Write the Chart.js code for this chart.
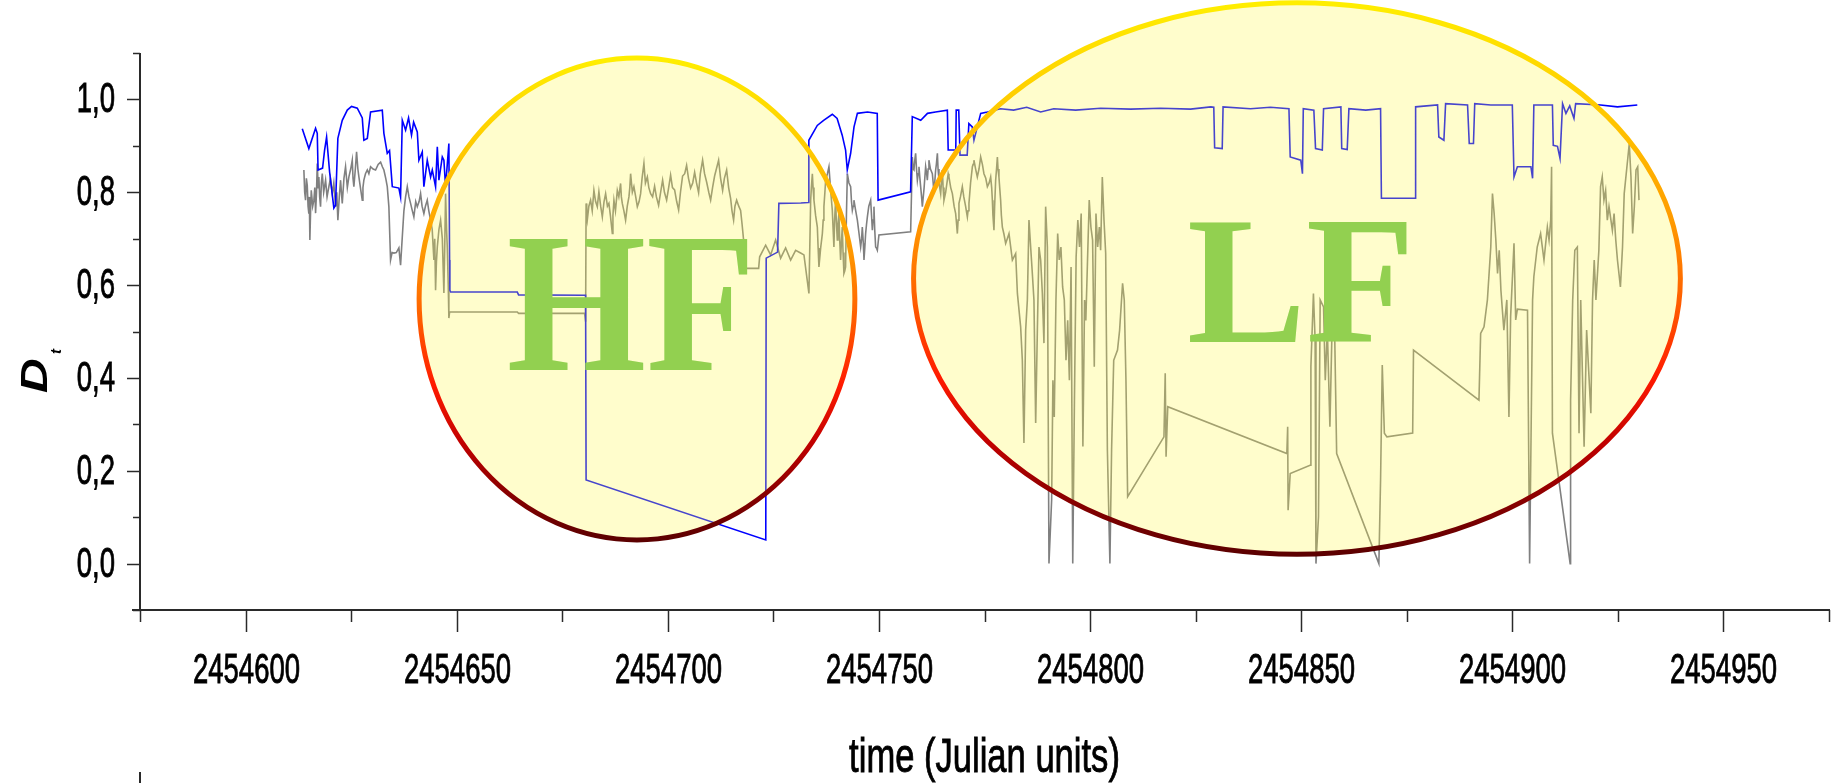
<!DOCTYPE html>
<html>
<head>
<meta charset="utf-8">
<script src="https://cdn.jsdelivr.net/npm/chart.js@4.4.0/dist/chart.umd.min.js"></script>
<style>
  html, body { margin: 0; padding: 0; background: #ffffff; }
  #wrap { width: 1832px; height: 783px; }
</style>
</head>
<body>
<div id="wrap"><canvas id="c" width="1832" height="783"></canvas></div>
<script>
// Julian day origin; the day arrays below are offsets from it.
const JD0 = 2454600;

// Blue series: D_t against time
const blueDays = [
  13.43,14.99,16.58,16.98,17.17,18.24,18.71,19.19,19.9,20.91,
  21.3,21.86,22.9,24.09,25.1,26.46,27.64,28.02,28.83,29.61,
  32.38,32.76,33.56,34.1,34.75,36.31,36.71,37.12,37.9,38.6,
  39.3,39.8,40.67,41.05,41.85,42.23,43.03,43.82,44.22,45.0,
  45.41,45.79,46.59,46.97,47.37,48.15,48.32,48.39,48.56,64.35,
  64.66,80.53,80.65,123.2,123.3,126.0,126.3,131.5,133.3,133.4,
  135.4,136.9,138.96,140.1,141.3,142.1,142.5,143.3,144.1,144.9,
  147.3,149.6,149.8,157.5,157.9,159.9,161.5,163.4,166.2,166.4,
  168.2,168.3,168.9,169.2,170.9,171.3,172.1,172.5,174.1,175.7,
  178.8,181.9,185.0,188.3,191.4,196.6,202.5,209.6,216.7,223.8,
  228.6,229.3,229.5,231.3,231.5,238.0,242.7,247.1,247.4,249.9,
  250.3,250.5,253.0,253.4,255.0,255.3,259.4,259.6,260.9,261.3,
  265.3,268.8,269.0,277.0,277.1,282.3,282.6,283.8,284.2,289.4,
  289.8,290.8,291.1,294.9,300.0,300.4,301.2,304.4,304.8,305.1,
  309.5,309.7,310.7,311.3,311.9,312.7,313.6,314.6,315.0,320.9,
  324.9,329.6
];
const blueValues = [
  .937,.894,.938,.927,.848,.852,.89,.919,.844,.766,
  .772,.916,.955,.977,.985,.981,.96,.912,.916,.973,
  .977,.927,.884,.89,.812,.809,.79,.955,.934,.96,
  .923,.951,.93,.869,.887,.812,.869,.833,.848,.812,
  .898,.826,.876,.869,.812,.905,.654,.589,.585,.585,
  .579,.578,.18,.051,.658,.671,.776,.777,.778,.912,
  .944,.955,.968,.959,.923,.891,.848,.884,.941,.970,
  .973,.970,.783,.801,.963,.955,.970,.973,.977,.891,
  .891,.977,.977,.880,.880,.948,.941,.912,.970,.973,
  .980,.977,.983,.973,.980,.977,.981,.979,.981,.979,
  .984,.983,.896,.894,.984,.980,.983,.980,.876,.869,
  .840,.980,.977,.894,.891,.980,.984,.894,.892,.980,
  .977,.980,.787,.787,.984,.988,.919,.912,.991,.988,
  .905,.905,.991,.988,.988,.833,.855,.855,.830,.988,
  .988,.901,.899,.873,.991,.970,.986,.959,.991,.988,
  .984,.988
];

// Grey series: D_t against time
const greyDays = [
  13.81,14.0,14.21,14.4,14.61,14.8,14.99,15.1,15.23,15.4,
  15.56,15.9,16.18,16.4,16.58,16.8,16.98,17.2,17.36,17.55,
  17.76,17.95,18.17,18.5,18.95,19.3,19.73,20.1,20.54,20.9,
  21.32,21.6,21.86,22.2,22.5,22.7,22.9,23.3,23.68,24.1,
  24.47,24.9,25.27,25.45,25.65,26.0,26.29,26.6,26.84,27.2,
  27.64,27.8,28.02,28.4,28.83,29.2,29.61,30.2,30.79,31.4,
  31.98,32.4,32.76,33.2,33.56,33.94,34.34,34.7,35.13,35.7,
  36.31,36.71,37.12,37.5,37.9,38.3,38.7,39.08,39.5,39.86,
  40.3,40.67,41.1,41.45,41.8,42.23,42.6,43.03,43.4,43.82,
  44.2,44.6,44.8,45.0,45.2,45.41,45.8,46.19,46.6,46.97,
  47.2,47.37,47.6,47.77,48.0,48.15,48.32,64.35,64.66,80.29,80.53,
  80.65,80.8,80.93,81.3,81.71,82.1,82.5,82.9,83.3,83.68,
  84.1,84.49,84.9,85.27,85.7,86.05,86.4,86.86,87.0,87.24,
  87.6,88.04,88.4,88.82,89.0,89.22,89.6,90.0,90.4,90.79,
  91.0,91.19,91.6,91.97,92.4,92.78,93.2,93.56,93.9,94.34,
  94.7,95.15,95.5,95.93,96.4,96.87,97.3,97.82,98.3,98.77,
  99.2,99.72,100.2,100.66,101.1,101.61,102.1,102.56,103.0,103.5,
  104.0,104.45,104.9,105.4,105.9,106.35,106.8,107.29,107.7,108.24,
  108.7,109.19,109.7,110.14,110.6,111.08,111.5,112.03,112.5,112.98,
  113.4,113.93,114.4,114.87,115.2,115.58,115.9,116.3,116.8,117.24,
  117.6,117.95,118.43,121.51,121.75,123.17,124.35,125.53,126.72,127.9,
  129.09,130.27,131.45,132.24,
  133.42,133.83,134.0,134.23,134.4,134.61,135.0,135.41,135.6,135.79,
  136.2,136.6,136.8,136.97,137.2,137.38,137.8,138.16,138.6,138.96,
  139.15,139.34,139.5,139.74,139.9,140.14,140.3,140.52,140.7,140.92,
  141.1,141.32,141.5,141.71,141.9,142.1,142.3,142.52,142.9,143.3,
  143.5,143.7,143.9,144.08,144.5,144.89,145.3,145.67,145.9,146.06,
  146.3,146.46,146.65,146.85,147.05,147.26,147.6,148.04,148.25,148.44,
  148.6,148.82,149.0,149.22,149.4,149.62,150.0,
  157.51,157.91,158.1,158.29,158.5,158.69,158.9,159.1,159.3,159.48,
  159.7,159.88,160.1,160.28,160.7,161.06,161.3,161.46,161.65,161.84,
  162.2,162.65,162.85,163.03,163.2,163.43,163.6,163.84,164.0,164.22,
  164.4,164.62,164.8,165.02,165.2,165.4,165.8,166.2,166.4,166.58,
  167.0,167.39,167.8,168.17,168.4,168.57,168.75,168.95,169.3,169.75,
  170.1,170.54,170.7,170.94,171.1,171.32,171.7,172.13,172.3,172.5,
  172.9,173.3,173.7,174.09,174.5,174.87,175.3,175.68,176.1,176.46,
  176.7,176.86,177.0,177.24,177.4,177.64,177.85,178.05,178.2,178.42,
  178.6,178.82,179.0,179.23,179.6,180.01,180.4,180.8,
  181.6,182.38,182.79,183.56,183.96,184.34,184.75,185.15,185.53,185.93,
  186.33,186.71,187.12,187.52,187.9,188.3,188.7,189.08,189.48,189.89,
  190.27,190.9,191.2,191.52,191.92,192.33,192.7,193.1,193.5,193.9,
  194.3,194.7,195.1,195.5,195.9,196.3,196.7,197.1,197.5,197.9,
  198.3,198.7,199.0,199.4,199.8,200.2,200.6,201.0,201.4,201.8,
  202.2,202.5,202.9,203.3,203.7,204.1,204.7,205.1,205.6,206.5,
  207.0,207.7,208.1,208.5,208.9,217.5,217.8,218.0,218.4,246.6,
  246.8,246.9,247.4,252.1,252.3,252.9,253.3,253.5,254.1,254.5,
  255.3,255.7,256.2,256.8,257.3,257.8,258.4,268.4,268.8,269.2,
  269.7,270.3,276.4,276.6,292.1,292.5,293.3,294.1,294.9,295.3,
  295.7,296.1,296.5,296.9,297.3,298.0,298.7,299.2,299.6,300.4,
  300.8,301.2,303.6,304.1,304.8,305.1,305.9,306.7,307.5,308.3,
  308.7,309.1,309.3,309.5,313.7,313.8,314.3,314.8,315.4,315.8,
  316.2,317.0,317.6,318.6,319.0,319.4,319.8,320.5,320.9,321.3,
  321.7,322.1,322.5,322.9,323.7,324.1,324.5,324.9,325.6,326.1,
  326.5,327.3,327.7,328.1,328.5,328.9,329.3,329.7,330.0
];
const greyValues = [
  .848,.80,.783,.83,.815,.77,.754,.79,.697,.76,
  .804,.77,.783,.81,.755,.80,.862,.81,.833,.79,
  .769,.82,.840,.80,.826,.79,.812,.83,.797,.82,
  .769,.80,.740,.79,.826,.80,.776,.83,.855,.81,
  .833,.85,.869,.83,.812,.85,.887,.85,.833,.81,
  .783,.81,.826,.84,.848,.84,.855,.85,.848,.86,
  .865,.855,.848,.83,.812,.769,.654,.67,.669,.67,
  .680,.643,.704,.76,.790,.812,.79,.776,.76,.747,
  .78,.769,.78,.797,.77,.754,.77,.783,.76,.740,
  .72,.654,.70,.589,.65,.682,.72,.740,.70,.583,
  .70,.797,.72,.682,.60,.529,.542,.542,.539,.539,.521,
  .776,.75,.740,.77,.783,.76,.804,.78,.769,.801,
  .77,.747,.78,.797,.77,.776,.75,.711,.75,.783,
  .76,.804,.79,.819,.79,.776,.76,.740,.77,.790,
  .81,.840,.80,.812,.79,.769,.78,.797,.83,.862,
  .82,.833,.81,.797,.79,.813,.79,.772,.80,.826,
  .80,.783,.81,.837,.81,.805,.78,.762,.80,.835,
  .84,.858,.83,.809,.82,.843,.82,.799,.84,.869,
  .84,.822,.80,.783,.81,.835,.85,.869,.83,.804,
  .83,.848,.81,.787,.76,.740,.77,.783,.77,.761,
  .73,.697,.636,.636,.661,.686,.665,.697,.658,.680,
  .654,.675,.669,.665,
  .582,.783,.81,.840,.81,.783,.75,.725,.68,.639,
  .68,.711,.74,.769,.80,.826,.84,.855,.80,.761,
  .72,.682,.74,.783,.74,.697,.73,.754,.70,.654,
  .69,.725,.67,.625,.63,.639,.75,.840,.82,.812,
  .78,.761,.77,.783,.76,.740,.71,.682,.70,.725,
  .69,.654,.68,.711,.73,.747,.77,.783,.75,.718,
  .74,.769,.72,.682,.68,.675,.708,
  .715,.876,.85,.848,.87,.884,.85,.826,.84,.855,
  .83,.812,.79,.769,.81,.855,.84,.826,.85,.869,
  .85,.840,.82,.797,.82,.848,.86,.884,.85,.826,
  .81,.797,.82,.848,.81,.783,.80,.826,.84,.833,
  .81,.797,.77,.754,.73,.711,.74,.776,.79,.812,
  .79,.769,.76,.747,.76,.776,.82,.855,.86,.869,
  .85,.833,.85,.876,.86,.840,.83,.812,.82,.833,
  .81,.783,.75,.718,.77,.826,.85,.876,.85,.833,
  .81,.783,.75,.725,.71,.690,.70,.711,
  .654,.668,.582,.510,.438,.260,.503,.568,.740,.682,
  .625,.568,.303,.503,.682,.654,.582,.475,.769,.682,
  0,.137,.395,.316,.568,.711,.654,.682,.596,.568,
  .438,.524,.395,.639,0,.352,.661,.740,.682,.754,
  .252,.568,.524,.654,.783,.725,.697,.424,.754,.682,
  .725,.675,.833,.740,.668,.245,0,.245,.438,.460,
  .503,.604,.568,.395,.144,.273,.410,.230,.338,.237,
  .295,.115,.194,.212,.424,.582,.481,0,.101,.568,
  .553,.395,.503,.295,.503,.568,.237,0,.180,.428,
  .281,.273,.281,.460,.352,.496,.510,.568,.682,.797,
  .754,.697,.625,.675,.589,.503,.568,.316,.532,.690,
  .525,.548,.546,0,.568,.618,.682,.711,.654,.725,
  .697,.740,.855,.281,0,.352,.568,.675,.682,.281,
  .568,.252,.503,.324,.568,.654,.568,.675,.812,.833,
  .783,.804,.740,.769,.718,.754,.697,.654,.596,.682,
  .797,.869,.905,.833,.711,.769,.848,.855,.783
];

// Axis extents and tick spacing
const xRange = [2454575, 2454975];
const xStep = 25, xLabelEvery = 50;
const yRange = [-0.1, 1.1];
const yStep = 0.1;

// Highlighted regimes: centre (JD, D_t), half-axes (days, D_t),
// and the box the big label occupies (left/right JD, baseline/top D_t).
const regimes = [
  { text: 'HF', centre: [2454692.7, 0.570], half: [51.6, 0.519],
    box: { left: 2454662.3, right: 2454719.1, base: 0.417, top: 0.697 } },
  { text: 'LF', centre: [2454849.0, 0.614], half: [90.8, 0.594],
    box: { left: 2454823.4, right: 2454875.2, base: 0.477, top: 0.733 } }
];
const ringStops = [
  [0, '#ffee00'], [0.2, '#ffc800'], [0.4, '#ff9900'], [0.55, '#ff5a00'],
  [0.68, '#ff1a00'], [0.8, '#c00000'], [0.9, '#8a0000'], [1, '#5c0000']
];

const toPoints = (days, vals) => days.map((d, i) => ({ x: JD0 + d, y: vals[i] }));

// Draw condensed text (the axis lettering is tall and narrow)
function narrowText(ctx, str, x, y, font, sx, align) {
  ctx.save();
  ctx.translate(x, y);
  ctx.scale(sx, 1);
  ctx.font = font;
  ctx.textAlign = align;
  ctx.textBaseline = 'alphabetic';
  ctx.lineWidth = 0.9;
  ctx.strokeStyle = '#000000';
  ctx.fillText(str, 0, 0);
  ctx.strokeText(str, 0, 0);
  ctx.restore();
}

const decorations = {
  id: 'decorations',
  afterDatasetsDraw(chart) {
    const { ctx, scales: { x, y } } = chart;
    regimes.forEach(r => {
      const cx = x.getPixelForValue(r.centre[0]);
      const cy = y.getPixelForValue(r.centre[1]);
      const rx = Math.abs(x.getPixelForValue(r.centre[0] + r.half[0]) - cx);
      const ry = Math.abs(y.getPixelForValue(r.centre[1] + r.half[1]) - cy);
      ctx.save();
      ctx.beginPath();
      ctx.ellipse(cx, cy, rx, ry, 0, 0, Math.PI * 2);
      ctx.fillStyle = 'rgba(255,247,69,0.275)';
      ctx.fill();
      const g = ctx.createLinearGradient(0, cy - ry, 0, cy + ry);
      ringStops.forEach(([o, c]) => g.addColorStop(o, c));
      ctx.strokeStyle = g;
      ctx.lineWidth = 5;
      ctx.stroke();

      // regime label, fitted into its box
      const left = x.getPixelForValue(r.box.left);
      const right = x.getPixelForValue(r.box.right);
      const base = y.getPixelForValue(r.box.base);
      const top = y.getPixelForValue(r.box.top);
      ctx.font = 'bold 100px "Liberation Serif", "Times New Roman", serif';
      const m = ctx.measureText(r.text);
      const k = (base - top) / m.actualBoundingBoxAscent;
      const w = (m.actualBoundingBoxLeft + m.actualBoundingBoxRight) * k;
      const sx = (right - left) / w;
      ctx.translate(left, base);
      ctx.scale(sx, 1);
      ctx.font = 'bold ' + (100 * k).toFixed(1) + 'px "Liberation Serif", "Times New Roman", serif';
      ctx.fillStyle = '#92d050';
      ctx.textBaseline = 'alphabetic';
      ctx.textAlign = 'left';
      ctx.fillText(r.text, m.actualBoundingBoxLeft * k, 0);
      ctx.restore();
    });
  },
  afterDraw(chart) {
    const { ctx, chartArea: a, scales: { x, y } } = chart;
    ctx.save();
    ctx.strokeStyle = '#2a2a2a';
    ctx.fillStyle = '#000000';
    ctx.lineWidth = 2;

    // axis lines
    ctx.beginPath();
    ctx.moveTo(a.left, y.getPixelForValue(yRange[1]));
    ctx.lineTo(a.left, a.bottom);
    ctx.moveTo(a.left - 8, a.bottom);
    ctx.lineTo(a.right + 1, a.bottom);
    ctx.moveTo(a.left, 772);
    ctx.lineTo(a.left, 783);
    ctx.stroke();

    // y ticks and labels
    const tickFont = '43px "Liberation Sans", Arial, sans-serif';
    y.ticks.forEach(t => {
      const tenth = Math.round(t.value * 10);
      const py = Math.round(y.getPixelForValue(tenth / 10)) + 0.5;
      const major = tenth % 2 === 0 && tenth >= 0 && tenth <= 10;
      ctx.strokeStyle = '#2a2a2a';
      ctx.lineWidth = 1.5;
      ctx.beginPath();
      ctx.moveTo(a.left, py);
      ctx.lineTo(a.left - (major ? 13 : 7), py);
      ctx.stroke();
      if (major) {
        const label = (tenth / 10).toFixed(1).replace('.', ',');
        narrowText(ctx, label, 115, py + 12, tickFont, 0.64, 'right');
      }
    });

    // x ticks and labels
    x.ticks.forEach(t => {
      const v = Math.round(t.value);
      const px = Math.round(x.getPixelForValue(v)) + 0.5;
      const major = v % xLabelEvery === 0;
      ctx.strokeStyle = '#2a2a2a';
      ctx.lineWidth = 1.5;
      ctx.beginPath();
      ctx.moveTo(px, a.bottom);
      ctx.lineTo(px, a.bottom + (major ? 22 : 12));
      ctx.stroke();
      if (major) {
        narrowText(ctx, String(v), px, 683, tickFont, 0.64, 'center');
      }
    });

    // axis titles
    narrowText(ctx, 'time (Julian units)', (a.left + a.right) / 2, 772,
      '48px "Liberation Sans", Arial, sans-serif', 0.72, 'center');

    ctx.save();
    ctx.translate(47, 393);
    ctx.rotate(-Math.PI / 2);
    ctx.scale(1.3, 1);
    ctx.font = 'italic bold 37px "Liberation Sans", Arial, sans-serif';
    ctx.textAlign = 'left';
    ctx.textBaseline = 'alphabetic';
    ctx.fillText('D', 0, 0);
    ctx.restore();
    ctx.save();
    ctx.translate(61, 354);
    ctx.rotate(-Math.PI / 2);
    ctx.font = 'italic bold 15px "Liberation Sans", Arial, sans-serif';
    ctx.textAlign = 'left';
    ctx.textBaseline = 'alphabetic';
    ctx.fillText('t', 0, 0);
    ctx.restore();

    ctx.restore();
  }
};

new Chart(document.getElementById('c'), {
  type: 'line',
  data: {
    datasets: [
      { label: 'D_t (blue)', data: toPoints(blueDays, blueValues),
        borderColor: '#0000ff', borderWidth: 1.6, pointRadius: 0, order: 0 },
      { label: 'D_t (grey)', data: toPoints(greyDays, greyValues),
        borderColor: '#808080', borderWidth: 1.6, pointRadius: 0, order: 1 }
    ]
  },
  options: {
    responsive: false,
    animation: false,
    devicePixelRatio: 1,
    layout: { padding: { left: 140, right: 3, top: 53, bottom: 173 } },
    elements: { line: { tension: 0 } },
    plugins: { legend: { display: false }, tooltip: { enabled: false } },
    scales: {
      x: {
        type: 'linear', min: xRange[0], max: xRange[1],
        ticks: { display: false, stepSize: xStep },
        grid: { display: false }, border: { display: false },
        afterFit(s) { s.height = 0; }
      },
      y: {
        type: 'linear', min: yRange[0], max: yRange[1],
        ticks: { display: false, stepSize: yStep },
        grid: { display: false }, border: { display: false },
        afterFit(s) { s.width = 0; }
      }
    }
  },
  plugins: [decorations]
});
</script>
</body>
</html>
